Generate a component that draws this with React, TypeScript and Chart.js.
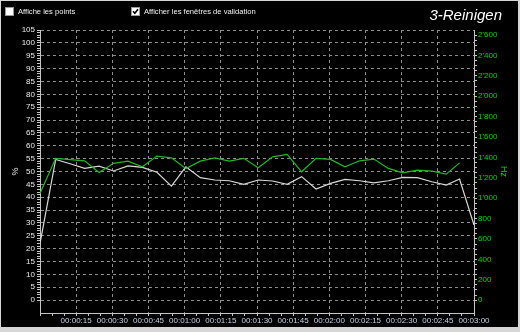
import React, { useEffect, useRef } from 'react';
import { Chart, registerables } from 'chart.js';

Chart.register(...registerables);

// ---- data ----
const timeSec = [0, 6.5, 12.5, 18.5, 24.5, 30.5, 36.5, 42.5, 48.5, 54.5, 60.5, 66.5, 72.5, 78.5, 84.5, 90.5, 96.5, 102.5, 108.5, 114.5, 120.5, 126.5, 132.5, 138.5, 144.5, 150.5, 156.5, 162.5, 168.5, 174, 180];
const cleaningPct = [22, 54.7, 53.0, 51.2, 52.1, 50.2, 52.2, 51.6, 49.7, 44.3, 51.8, 47.6, 46.7, 46.4, 45.0, 46.7, 46.3, 45.0, 48.0, 43.2, 45.4, 46.9, 46.4, 45.6, 46.4, 47.7, 47.6, 46.0, 44.7, 47.1, 29.2];
const freqHz = [1047, 1391, 1379, 1367, 1253, 1342, 1364, 1308, 1413, 1396, 1292, 1364, 1396, 1364, 1391, 1298, 1406, 1430, 1259, 1391, 1381, 1308, 1367, 1384, 1292, 1249, 1276, 1266, 1236, 1347, null];

const xTickValues = Array.from({ length: 37 }, (_, i) => i * 5); // every 5 s, labelled every 15 s
const leftTickValues = Array.from({ length: 106 }, (_, i) => i); // every 1 %, labelled every 5 %
const rightTickValues = Array.from({ length: 53 }, (_, i) => i * 50); // every 50 Hz, labelled every 200 Hz

const FONT = '"Liberation Sans", Arial, sans-serif';
const GRID = '#8c8c8c';
const AXIS = '#c4c4c4';
const GREEN_LINE = '#22b822';
const GREEN_TEXT = '#00d800';
const WHITE_LINE = '#d8d8d8';

function fmtTime(v: number) {
  const h = Math.floor(v / 3600);
  const m = Math.floor((v % 3600) / 60);
  const s = Math.round(v % 60);
  const p = (n: number) => String(n).padStart(2, '0');
  return `${p(h)}:${p(m)}:${p(s)}`;
}
function fmtThousands(v: number) {
  return String(v).replace(/\B(?=(\d{3})+(?!\d))/g, "'");
}

const Checkbox = ({ x, checked, label }: { x: number; checked: boolean; label: string }) => (
  <div style={{ position: 'absolute', left: x, top: 7, display: 'flex', alignItems: 'center', height: 9 }}>
    <div style={{ width: 9, height: 9, background: '#fff', boxSizing: 'border-box', border: '1px solid #9a9a9a', position: 'relative' }}>
      {checked && (
        <svg width="7" height="7" style={{ position: 'absolute', left: 0, top: 0 }}>
          <polyline points="1,3.2 2.8,5.2 6,1.2" stroke="#000" strokeWidth="1.6" fill="none" />
        </svg>
      )}
    </div>
    <span style={{ marginLeft: 4, color: '#f0f0f0', fontFamily: FONT, fontSize: '7.6px', lineHeight: '9px', whiteSpace: 'nowrap' }}>{label}</span>
  </div>
);

export default function App() {
  const ref = useRef<HTMLCanvasElement | null>(null);

  useEffect(() => {
    if (!ref.current) return;
    const chart = new Chart(ref.current, {
      type: 'line',
      data: {
        datasets: [
          {
            label: 'Hz',
            data: timeSec.map((t, i) => ({ x: t, y: freqHz[i] as any })),
            yAxisID: 'y1',
            borderColor: GREEN_LINE,
            borderWidth: 1.2,
            pointRadius: 0,
            tension: 0,
            spanGaps: false,
          },
          {
            label: '%',
            data: timeSec.map((t, i) => ({ x: t, y: cleaningPct[i] })),
            yAxisID: 'y',
            borderColor: WHITE_LINE,
            borderWidth: 1.2,
            pointRadius: 0,
            tension: 0,
          },
        ],
      },
      options: {
        animation: false,
        responsive: false,
        devicePixelRatio: 1,
        layout: { padding: { top: 30, left: 0, right: 0, bottom: 0 } },
        plugins: { legend: { display: false }, tooltip: { enabled: false } },
        scales: {
          x: {
            type: 'linear',
            min: 0,
            max: 180,
            position: 'bottom',
            afterBuildTicks: (s: any) => { s.ticks = xTickValues.map((v) => ({ value: v })); },
            afterFit: (s: any) => { s.height = 19; },
            ticks: {
              autoSkip: false,
              maxRotation: 0,
              padding: 0,
              color: '#c4d2ea',
              font: { size: 8, family: FONT },
              callback: (v: any) => (v % 15 === 0 && v > 0 ? fmtTime(v) : ''),
            },
            grid: {
              color: (c: any) => (c.tick && c.tick.value % 15 === 0 && c.tick.value > 0 && c.tick.value < 180 ? GRID : 'rgba(0,0,0,0)'),
              tickColor: AXIS,
              tickLength: 3,
              lineWidth: 1,
            },
            border: { color: AXIS, width: 1, dash: [3, 3] },
          },
          y: {
            type: 'linear',
            min: -5,
            max: 105,
            position: 'left',
            afterBuildTicks: (s: any) => { s.ticks = leftTickValues.map((v) => ({ value: v })); },
            afterFit: (s: any) => { s.width = 40; },
            title: { display: true, text: '%', color: '#e8e8e8', font: { size: 9, family: FONT }, padding: { top: 10, bottom: 0 } },
            ticks: {
              autoSkip: false,
              padding: 2,
              color: '#e8e8e8',
              font: { size: 8, family: FONT },
              callback: (v: any) => (v % 5 === 0 ? String(v) : ''),
            },
            grid: {
              color: (c: any) => (c.tick && c.tick.value % 5 === 0 ? GRID : 'rgba(0,0,0,0)'),
              tickColor: AXIS,
              tickLength: 3,
              lineWidth: 1,
            },
            border: { color: AXIS, width: 1, dash: [3, 3] },
          },
          y1: {
            type: 'linear',
            min: -126,
            max: 2650,
            position: 'right',
            afterBuildTicks: (s: any) => { s.ticks = rightTickValues.map((v) => ({ value: v })); },
            afterFit: (s: any) => { s.width = 46; },
            title: { display: true, text: 'Hz', color: GREEN_TEXT, font: { size: 9, family: FONT }, padding: { top: 11, bottom: 0 } },
            ticks: {
              autoSkip: false,
              padding: 1,
              color: GREEN_TEXT,
              font: { size: 8, family: FONT },
              callback: (v: any) => (v % 200 === 0 ? fmtThousands(v) : ''),
            },
            grid: {
              drawOnChartArea: false,
              tickColor: AXIS,
              tickLength: 3,
            },
            border: { color: AXIS, width: 1 },
          },
        },
      } as any,
    });
    return () => chart.destroy();
  }, []);

  return (
    <div style={{ position: 'fixed', left: 0, top: 0, width: 520, height: 332, background: '#d6d6d6', overflow: 'hidden' }}>
      <div style={{ position: 'absolute', left: 1, top: 1, width: 517, height: 326, background: '#000' }} />
      <canvas ref={ref} width={520} height={332} style={{ position: 'absolute', left: 0, top: 0, width: 520, height: 332 }} />
      <Checkbox x={5} checked={false} label="Affiche les points" />
      <Checkbox x={131} checked={true} label="Afficher les fenêtres de validation" />
      <div style={{ position: 'absolute', right: 18, top: 6, color: '#fff', fontFamily: FONT, fontStyle: 'italic', fontSize: 15, lineHeight: '18px' }}>3-Reinigen</div>
    </div>
  );
}
